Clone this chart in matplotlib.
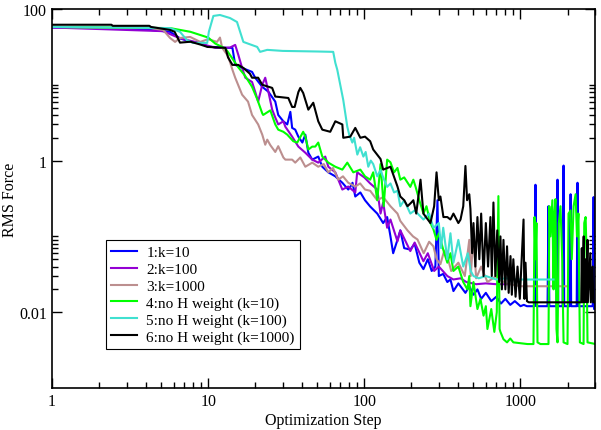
import matplotlib
matplotlib.use("Agg")
import matplotlib.pyplot as plt
from matplotlib.ticker import NullFormatter

# (optimization step, RMS force)
k10_pts = [(1, 57), (2.4, 56), (3.2, 54.6), (4.25, 53), (5.15, 51), (5.7, 50), (6.6, 41), (7.7, 37),
           (8.9, 36), (9.9, 32), (12.9, 30.7), (14.3, 30.7), (14.9, 18.3), (16.5, 16.7), (19.1, 14.8),
           (20, 12.4), (22.2, 9.4), (24.3, 8.1), (26.9, 6.0), (28.1, 4.0), (30.3, 3.3), (32.1, 3.0),
           (33.6, 4.4), (34.5, 2.7), (36.1, 2.56), (37.8, 2.07), (40.1, 1.73), (41.9, 2.2), (43.8, 1.27),
           (46.4, 1.03), (50.7, 1.13), (53.8, 0.83), (58.8, 0.70), (65.2, 0.62), (72.3, 0.51), (78.9, 0.415),
           (81.3, 0.45), (84, 0.51), (87.5, 0.336), (94.3, 0.38), (101, 0.30), (109, 0.248), (121, 0.2),
           (132, 0.15), (140, 0.18), (147, 0.1), (153, 0.06), (163, 0.09), (170, 0.12), (180, 0.07),
           (197, 0.067), (210, 0.08), (225, 0.045), (239, 0.037), (255, 0.05), (270, 0.035), (285, 0.04),
           (294, 0.3), (300, 0.03), (320, 0.032), (340, 0.025), (356, 0.027), (372, 0.019), (400, 0.024),
           (444, 0.018), (470, 0.022), (500, 0.017), (530, 0.02), (560, 0.015), (600, 0.018), (650, 0.014),
           (700, 0.016), (750, 0.013), (800, 0.015), (860, 0.0125), (920, 0.014), (1000, 0.012),
           (1050, 0.0125), (1100, 0.012), (1230, 0.012), (1247, 0.48), (1265, 0.012), (1490, 0.012),
           (1511, 0.25), (1530, 0.012), (1700, 0.012), (1726, 0.56), (1745, 0.012), (1860, 0.012),
           (1887, 0.86), (1905, 0.012), (2070, 0.012), (2093, 0.36), (2110, 0.012), (2290, 0.012),
           (2318, 0.51), (2335, 0.012), (2900, 0.012), (2938, 0.33), (2960, 0.011), (3025, 0.011)]

k100_pts = [(1, 57), (5.15, 51), (6.6, 41), (8.26, 36.8), (11.1, 30.7), (13.8, 31), (14.9, 33.6),
            (15.6, 24.8), (16.5, 16.7), (17.3, 12.4), (19.1, 10.9), (20, 8.1), (20.9, 6.0), (22.2, 10),
            (23.2, 12.4), (24.3, 8.1), (25.7, 4.7), (26.9, 3.7), (28.1, 3.0), (30.3, 3.3), (31.2, 2.8),
            (34.5, 2.07), (37.8, 1.53), (41.9, 1.27), (46.4, 1.03), (50.7, 0.94), (56.2, 1.13), (58.8, 0.83),
            (65.2, 0.70), (72.3, 0.415), (78.9, 0.455), (87.5, 0.38), (90, 0.7), (100, 0.6), (109, 0.5),
            (121, 0.415), (127, 0.2), (132, 0.28), (140, 0.13), (147, 0.167), (163, 0.086), (170, 0.12),
            (197, 0.064), (210, 0.083), (239, 0.047), (255, 0.06), (280, 0.035), (300, 0.04), (340, 0.03),
            (372, 0.027), (413, 0.028), (450, 0.025), (520, 0.0234), (600, 0.024), (700, 0.0234),
            (826, 0.0234)]

k1000_pts = [(1, 58), (4.25, 56), (5.15, 52.9), (5.7, 41.5), (6.14, 36.8), (6.62, 41.5), (7.67, 42.8),
             (8.9, 36.8), (10, 40), (11.4, 36.8), (11.9, 42), (12.3, 30.7), (13.4, 24), (14.3, 15.8),
             (14.9, 12.4), (16.5, 7.4), (18, 6.0), (19.1, 4.0), (20.9, 3.0), (22.2, 2.2), (23.2, 1.62),
             (23.9, 1.89), (25, 1.6), (26.9, 1.3), (28.1, 1.55), (30.3, 1.1), (31.2, 1.03), (34.5, 1.03),
             (36.1, 0.94), (38.9, 1.1), (41.9, 0.83), (46.4, 0.94), (50.7, 0.83), (55, 0.9), (58.8, 0.70),
             (63, 0.8), (68.1, 0.56), (73, 0.62), (78.9, 0.51), (87.5, 0.455), (94, 0.5), (101, 0.415),
             (109, 0.4), (121, 0.3), (132, 0.33), (147, 0.25), (163, 0.2), (170, 0.16), (189, 0.12),
             (205, 0.1), (219, 0.091), (240, 0.06), (260, 0.085), (277, 0.074), (290, 0.05), (307, 0.043),
             (325, 0.065), (340, 0.0545), (360, 0.035), (400, 0.045), (440, 0.03), (470, 0.09), (480, 0.03),
             (500, 0.1), (520, 0.028), (560, 0.04), (614, 0.025), (700, 0.03), (800, 0.024), (1000, 0.022),
             (1500, 0.022), (2000, 0.022)]

noH10_pts = [(1, 58), (5.7, 56), (7.7, 50), (10, 42), (11.1, 35), (12.9, 30), (13.4, 27), (15.6, 17),
             (17.3, 13), (19.1, 9.4), (20.6, 6.5), (22.2, 4.2), (22.5, 4.0), (25, 4.6), (26.9, 3.0),
             (28.1, 2.56), (30.3, 2.4), (32.1, 2.2), (35.1, 1.8), (37.2, 1.73), (40.6, 2.4), (41.9, 2.07),
             (43.8, 1.4), (46.4, 1.53), (48.5, 1.53), (50.7, 1.73), (53.8, 1.13), (58.8, 0.94), (65.2, 0.83),
             (72.3, 0.76), (77.8, 0.94), (85, 0.70), (94.3, 0.76), (101, 0.62), (109, 0.56), (114, 0.7),
             (121, 0.3), (127, 0.9), (133, 0.25), (140, 1.03), (147, 0.95), (155, 0.7), (163, 0.8),
             (170, 0.56), (180, 0.6), (197, 0.45), (206, 0.56), (213, 0.45), (225, 0.3), (239, 0.2),
             (250, 0.25), (265, 0.15), (277, 0.124), (290, 0.09), (300, 0.11), (320, 0.067), (340, 0.045),
             (356, 0.06), (372, 0.035), (400, 0.04), (430, 0.025), (457, 0.02), (470, 0.03), (478, 0.012),
             (500, 0.025), (530, 0.011), (554, 0.015), (580, 0.009), (600, 0.012), (614, 0.006), (650, 0.011),
             (680, 0.0055), (705, 0.01), (722, 0.34), (735, 0.006), (744, 0.0055), (778, 0.0044),
             (820, 0.004), (860, 0.0045), (900, 0.004), (1109, 0.0038), (1211, 0.0038), (1230, 0.18),
             (1247, 0.05), (1265, 0.15), (1285, 0.004), (1343, 0.0038), (1511, 0.0038), (1530, 0.25),
             (1556, 0.1), (1600, 0.3), (1628, 0.02), (1650, 0.2), (1675, 0.31), (1700, 0.006), (1726, 0.004),
             (1760, 0.15), (1804, 0.25), (1850, 0.05), (1887, 0.004), (2000, 0.0038), (2030, 0.2),
             (2093, 0.22), (2130, 0.05), (2188, 0.25), (2254, 0.36), (2300, 0.1), (2350, 0.2), (2400, 0.004),
             (2535, 0.0038), (2560, 0.15), (2612, 0.18), (2650, 0.06), (2686, 0.004), (3025, 0.0038)]

noH100_pts = [(1, 58), (5.7, 56), (6.6, 50), (7.3, 39), (8, 35.7), (9.86, 35.7), (10.1, 50), (10.8, 81),
              (11.9, 83.4), (13.8, 76), (15.3, 67.4), (16.8, 36.8), (20.6, 31.6), (21.5, 27.2), (23.9, 28.9),
              (30, 28), (50, 27.5), (63.2, 27.2), (65.2, 19.5), (67.1, 15.8), (73.3, 6.3), (77.8, 2.8),
              (80, 2.2), (83.8, 1.73), (86, 2.0), (90.2, 1.2), (94, 1.5), (98.6, 1.13), (102, 1.3),
              (106, 0.83), (110, 1.0), (114, 0.9), (121, 0.62), (127, 0.75), (132, 0.6), (140, 0.45),
              (147, 0.5), (155, 0.38), (163, 0.4), (170, 0.25), (180, 0.3), (197, 0.2), (210, 0.22),
              (239, 0.167), (260, 0.2), (277, 0.13), (300, 0.15), (310, 0.07), (320, 0.13), (340, 0.05),
              (356, 0.11), (372, 0.045), (400, 0.09), (430, 0.04), (460, 0.06), (480, 0.035), (500, 0.03),
              (540, 0.028), (600, 0.03), (700, 0.027), (800, 0.028), (1000, 0.027), (1300, 0.027),
              (1628, 0.027)]

noH1000_pts = [(1, 62), (2.4, 62), (2.45, 60), (4.2, 60), (4.3, 58), (5.7, 53), (6.1, 50), (6.6, 36),
               (7.7, 37), (8.9, 34), (9.9, 31.6), (12.9, 30.7), (13.4, 23), (14.3, 18.3), (15.6, 18.3),
               (16.8, 16.7), (18.5, 14), (19.1, 12.4), (20.9, 12.4), (22.2, 10), (25.7, 9.1), (26.9, 7.0),
               (32.6, 6.7), (34.5, 5.1), (35.8, 5.1), (37.8, 8), (38.9, 9.1), (40.6, 7.8), (43.8, 4.7),
               (47.1, 5.8), (50.7, 3.3), (53.8, 2.56), (60.5, 2.4), (65.2, 3.3), (72.3, 3.0), (73.3, 2.0),
               (81.3, 2.07), (87.5, 2.7), (94.3, 2.0), (101, 2.07), (109, 1.8), (114, 1.4), (127, 1.05),
               (132, 0.76), (147, 0.83), (163, 0.455), (170, 0.336), (180, 0.3), (189, 0.25), (200, 0.28),
               (206, 0.3), (215, 0.2), (229, 0.56), (235, 0.3), (239, 0.2), (265, 0.15), (280, 0.25),
               (290, 0.7), (300, 0.3), (307, 0.336), (321, 0.18), (340, 0.18), (356, 0.167), (372, 0.2),
               (400, 0.15), (413, 0.167), (430, 0.25), (444, 0.85), (455, 0.3), (470, 0.36), (478, 0.23),
               (490, 0.06), (500, 0.15), (514, 0.04), (530, 0.18), (545, 0.05), (560, 0.2), (580, 0.03),
               (600, 0.15), (620, 0.04), (642, 0.18), (655, 0.03), (671, 0.28), (690, 0.03), (710, 0.12),
               (730, 0.025), (744, 0.1), (760, 0.02), (778, 0.09), (800, 0.02), (820, 0.074), (840, 0.018),
               (863, 0.055), (880, 0.017), (900, 0.05), (930, 0.016), (957, 0.04), (990, 0.015),
               (1046, 0.167), (1060, 0.015), (1077, 0.045), (1100, 0.014), (1130, 0.0135), (2450, 0.0135),
               (2470, 0.07), (2490, 0.0135), (2540, 0.1), (2560, 0.0135), (2620, 0.05), (2640, 0.0135),
               (2686, 0.09), (2700, 0.0135), (2800, 0.06), (2820, 0.0135), (2900, 0.04), (2920, 0.0135),
               (3025, 0.0135)]

labels = ["1:k=10", "2:k=100", "3:k=1000", "4:no H weight (k=10)",
          "5:no H weight (k=100)", "6:no H weight (k=1000)"]
colors = ["#0000ff", "#9400d3", "#bc8f8f", "#00ff00", "#40e0d0", "#000000"]

x_major = [1, 10, 100, 1000]
x_minor = [2, 3, 4, 5, 6, 7, 8, 9, 20, 30, 40, 50, 60, 70, 80, 90,
           200, 300, 400, 500, 600, 700, 800, 900, 2000, 3000]
y_major = [0.01, 1, 100]
y_minor = [0.02, 0.03, 0.04, 0.05, 0.06, 0.07, 0.08, 0.09, 0.1,
           2, 3, 4, 5, 6, 7, 8, 9, 10]

plt.rcParams['font.family'] = ['Liberation Serif', 'DejaVu Serif']

fig = plt.figure(figsize=(6.01, 4.31), dpi=100)
ax = fig.add_axes([52 / 601, 1 - 389 / 431, 543 / 601, 379 / 431])

all_pts = [k10_pts, k100_pts, k1000_pts, noH10_pts, noH100_pts, noH1000_pts]
for pts, lab, col in zip(all_pts, labels, colors):
    xs, ys = zip(*pts)
    ax.plot(xs, ys, color=col, lw=1.5, label=lab)

ax.set_xscale('log')
ax.set_yscale('log')
ax.set_xlim(1, 3000)
ax.set_ylim(0.001, 100)

ax.set_xticks(x_major, labels=[str(v) for v in x_major])
ax.set_xticks(x_minor, minor=True)
ax.set_yticks(y_major, labels=["0.01", "1", "100"])
ax.set_yticks(y_minor, minor=True)
ax.xaxis.set_minor_formatter(NullFormatter())
ax.yaxis.set_minor_formatter(NullFormatter())
ax.tick_params(which='both', direction='in', top=True, right=True, labelsize=11.5, width=1)
ax.tick_params(which='major', length=7)
ax.tick_params(which='minor', length=4)
for s in ax.spines.values():
    s.set_linewidth(1.2)

ax.set_xlabel("Optimization Step", fontsize=11.5, labelpad=2)
ax.set_ylabel("RMS Force", fontsize=11.5, labelpad=1)

leg = ax.legend(loc='lower left', bbox_to_anchor=(0.0994, 0.103), borderaxespad=0,
                fancybox=False, edgecolor='black', framealpha=1, fontsize=11,
                handlelength=1.7, labelspacing=0.2, borderpad=0.35, handletextpad=0.6)
leg.get_frame().set_linewidth(0.8)

fig.savefig("out.png", dpi=100)
